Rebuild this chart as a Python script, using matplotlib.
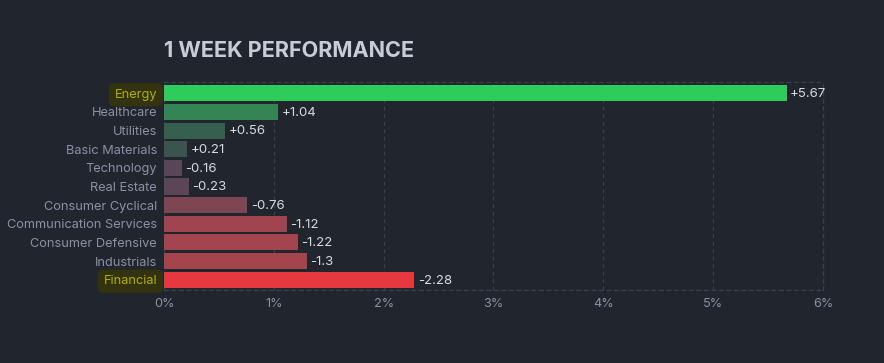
import matplotlib.pyplot as plt

sectors = ["Energy", "Healthcare", "Utilities", "Basic Materials", "Technology",
           "Real Estate", "Consumer Cyclical", "Communication Services",
           "Consumer Defensive", "Industrials", "Financial"]
changes = [5.67, 1.04, 0.56, 0.21, -0.16, -0.23, -0.76, -1.12, -1.22, -1.3, -2.28]
bar_colors = ["#2ecc5a", "#358454", "#365f4e", "#3c5450", "#574657",
              "#5b4556", "#7e4552", "#a0454f", "#a3454e", "#a5444d", "#e5393f"]
highlighted = ["Energy", "Financial"]
ticks = [0, 1, 2, 3, 4, 5, 6]

bg = "#21252e"
plt.rcParams["font.family"] = ["Inter", "DejaVu Sans"]

fig = plt.figure(figsize=(8.84, 3.63), dpi=100, facecolor=bg)
ax = fig.add_axes([0.1855, 0.201, 0.7455, 0.573], facecolor=bg)

y = list(range(len(sectors)))
widths = [abs(v) for v in changes]
ax.barh(y, widths, height=0.86, color=bar_colors, zorder=3)

for yi, v in zip(y, changes):
    label = f"+{v:g}" if v > 0 else f"{v:g}"
    ax.text(abs(v) + 0.03, yi + 0.05, label, va="center", ha="left",
            color="#d8dae2", fontsize=9.5, zorder=4)

ax.set_xlim(0, 6)
ax.set_ylim(len(sectors) - 0.45, -0.6)
ax.set_xticks(ticks)
ax.set_xticklabels([f"{t}%" for t in ticks])
ax.set_yticks(y)
ax.set_yticklabels(sectors)
ax.tick_params(length=0, colors="#8b90a3", labelsize=9.2, pad=5)
ax.tick_params(axis="x", pad=6)

ax.grid(axis="x", color="#3a3f4c", linestyle=(0, (3, 3)), linewidth=0.9, zorder=0)
for side in ["top", "bottom", "right"]:
    ax.spines[side].set_color("#3a3f4c")
    ax.spines[side].set_linestyle((0, (3, 3)))
    ax.spines[side].set_linewidth(0.9)
ax.spines["left"].set_visible(False)

for lbl in ax.get_yticklabels():
    if lbl.get_text() in highlighted:
        lbl.set_color("#b3ae00")
        lbl.set_bbox(dict(facecolor="#33330f", edgecolor="none",
                          boxstyle="round,pad=0.45"))

fig.text(0.1855, 0.86, "1 WEEK PERFORMANCE", color="#c9cbd8", fontsize=15.6,
         fontweight="bold", ha="left", va="center")

fig.savefig("out.png", dpi=100, facecolor=bg)
